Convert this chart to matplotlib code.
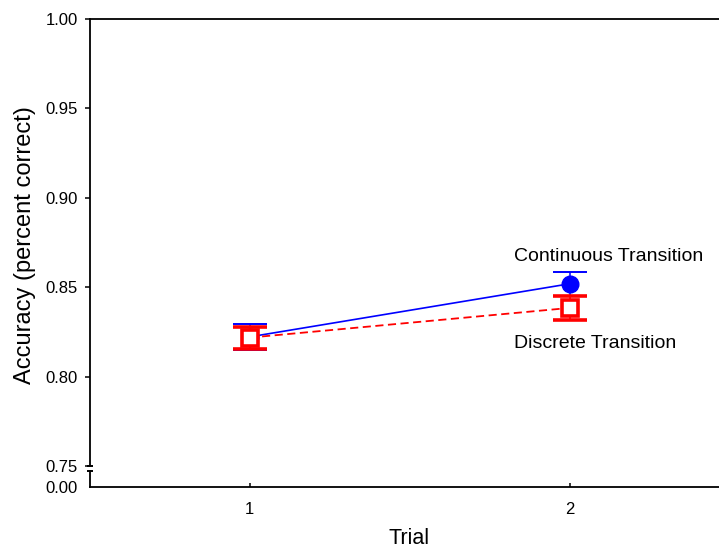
import matplotlib
matplotlib.use("Agg")
import matplotlib.pyplot as plt

plt.rcParams['font.family'] = ['Liberation Sans', 'DejaVu Sans']

trials = [1, 2]
continuous = [0.8222, 0.8519]
continuous_err = [0.0071, 0.0067]
discrete = [0.8218, 0.8384]
discrete_err = [0.0062, 0.0067]
yticks = [0.75, 0.80, 0.85, 0.90, 0.95, 1.00]
series_labels = ["Continuous Transition", "Discrete Transition"]

W, H = 719, 550
fig = plt.figure(figsize=(W / 100, H / 100), dpi=100)

left = 89.5 / W
width = 640 / W
ax = fig.add_axes([left, (H - 466) / H, width, (466 - 19) / H])
axb = fig.add_axes([left, (H - 487) / H, width, (487 - 471) / H])

lw_sp = 1.3
for a in (ax, axb):
    for s in a.spines.values():
        s.set_linewidth(lw_sp)
        s.set_color('black')

ax.spines['bottom'].set_visible(False)
axb.spines['top'].set_visible(False)
axb.spines['right'].set_visible(False)

ax.set_xlim(0.5, 2.5)
axb.set_xlim(0.5, 2.5)
ax.set_ylim(0.75, 1.00)
axb.set_ylim(0, 1)

ax.set_yticks(yticks)
ax.set_yticklabels([f"{v:.2f}" for v in yticks])
ax.set_xticks([])
ax.tick_params(axis='y', direction='out', length=3.5, width=1.1, pad=5, labelsize=12)

axb.set_yticks([0])
axb.set_yticklabels(["0.00"])
axb.tick_params(axis='y', length=0, pad=8.5, labelsize=12)
axb.set_xticks(trials)
axb.set_xticklabels([str(t) for t in trials])
axb.tick_params(axis='x', direction='in', length=3, width=1.1, pad=11, labelsize=12)

# break marks
ax.plot([0], [0], transform=ax.transAxes, marker='_', markersize=5, mew=1.4,
        color='black', clip_on=False)
axb.plot([0], [1], transform=axb.transAxes, marker='_', markersize=5, mew=1.4,
         color='black', clip_on=False)

ax.errorbar(trials, continuous, yerr=continuous_err, color='blue', lw=1.2,
            marker='o', markersize=12, mfc='blue', mec='blue',
            capsize=12, capthick=1.4, elinewidth=1.1, zorder=3)
ax.errorbar(trials, discrete, yerr=discrete_err, color='red', lw=1.3,
            ls=(0, (4.5, 2.5)), marker='s', markersize=11.5, mfc='white',
            mec='red', mew=2.6, capsize=12, capthick=1.6, elinewidth=1.2,
            zorder=4)

ax.text(1.828, 0.8670, series_labels[0], fontsize=14, va='center', ha='left')
ax.text(1.825, 0.8184, series_labels[1], fontsize=14, va='center', ha='left')

ax.set_ylabel("Accuracy (percent correct)", fontsize=17)
ax.yaxis.set_label_coords(-0.084, 0.494)
axb.set_xlabel("Trial", fontsize=15.5, labelpad=8)

fig.savefig("out.png", dpi=100)
